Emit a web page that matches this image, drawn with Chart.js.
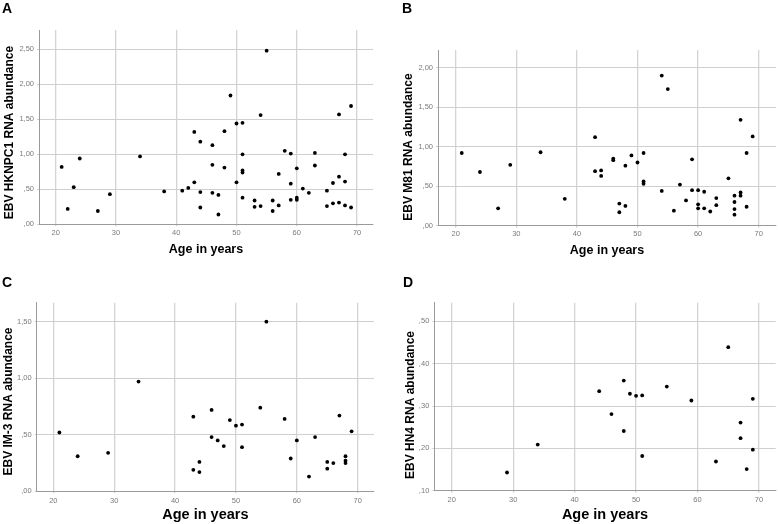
<!DOCTYPE html>
<html>
<head>
<meta charset="utf-8">
<script src="https://cdn.jsdelivr.net/npm/chart.js@4.4.1/dist/chart.umd.min.js"></script>
<style>
  html, body { margin: 0; padding: 0; background: #fff; }
  #wrap { position: relative; width: 778px; height: 524px; overflow: hidden; background: #fff; }
  canvas { position: absolute; }
  .lbl { position: absolute; font: bold 14px "Liberation Sans", Arial, sans-serif; color: #000; }
</style>
</head>
<body>
<div id="wrap">
  <canvas id="cA" width="389" height="262" style="left:0px;top:0px;width:389px;height:262px"></canvas>
  <canvas id="cB" width="389" height="262" style="left:389px;top:0px;width:389px;height:262px"></canvas>
  <canvas id="cC" width="389" height="262" style="left:0px;top:262px;width:389px;height:262px"></canvas>
  <canvas id="cD" width="389" height="262" style="left:389px;top:262px;width:389px;height:262px"></canvas>
  <div class="lbl" style="left:2px;top:0px">A</div>
  <div class="lbl" style="left:402px;top:0px">B</div>
  <div class="lbl" style="left:2px;top:274px">C</div>
  <div class="lbl" style="left:403px;top:274px">D</div>
</div>
<script>
// ---------- data ----------
const xTicks = [20, 30, 40, 50, 60, 70];
const xTitle = "Age in years";

const agesA = [21,22,23,24,27,29,34,38,41,42,43,43,44,44,44,46,46,46,47,47,48,48,49,50,50,51,51,51,51,51,53,53,54,54,55,56,56,57,57,58,59,59,59,60,60,60,61,62,63,63,65,65,66,66,67,67,67,68,68,68,69,69];
const valsA = [0.82,0.22,0.53,0.94,0.19,0.43,0.97,0.47,0.48,0.52,1.32,0.60,1.18,0.46,0.24,1.13,0.85,0.45,0.42,0.14,1.33,0.81,1.84,1.44,0.60,1.45,1.00,0.77,0.74,0.38,0.34,0.25,0.26,1.56,2.48,0.34,0.19,0.72,0.27,1.05,1.01,0.58,0.35,0.80,0.38,0.35,0.51,0.45,1.02,0.84,0.48,0.26,0.59,0.30,1.57,0.68,0.31,1.00,0.61,0.27,1.69,0.24];
const yTicksA = [0, 0.5, 1.0, 1.5, 2.0, 2.5];
const yLabelsA = [",00", ",50", "1,00", "1,50", "2,00", "2,50"];
const titleA = "EBV HKNPC1 RNA abundance";

const agesB = [21,24,27,29,34,38,43,43,44,44,46,46,47,47,48,48,49,50,51,51,51,54,54,55,56,57,58,59,59,60,60,60,61,61,62,63,63,65,66,66,66,66,67,67,67,68,68,69];
const valsB = [0.92,0.68,0.22,0.77,0.93,0.34,1.12,0.69,0.70,0.63,0.85,0.83,0.28,0.17,0.76,0.25,0.89,0.80,0.92,0.56,0.53,1.90,0.44,1.73,0.19,0.52,0.32,0.84,0.45,0.45,0.27,0.22,0.43,0.22,0.18,0.35,0.26,0.60,0.38,0.30,0.21,0.14,1.34,0.42,0.38,0.92,0.24,1.13];
const yTicksB = [0, 0.5, 1.0, 1.5, 2.0];
const yLabelsB = [",00", ",50", "1,00", "1,50", "2,00"];
const titleB = "EBV M81 RNA abundance";

const agesC = [21,24,29,34,43,43,44,44,46,46,47,48,49,50,51,51,54,55,58,59,60,62,63,65,65,66,67,68,68,68,69];
const valsC = [0.52,0.31,0.34,0.97,0.66,0.19,0.26,0.17,0.72,0.48,0.45,0.40,0.63,0.58,0.59,0.39,0.74,1.50,0.64,0.29,0.45,0.13,0.48,0.26,0.20,0.25,0.67,0.31,0.27,0.25,0.53];
const yTicksC = [0, 0.5, 1.0, 1.5];
const yLabelsC = [",00", ",50", "1,00", "1,50"];
const titleC = "EBV IM-3 RNA abundance";

const agesD = [29,34,44,46,48,48,49,50,51,51,55,59,63,65,67,67,68,69,69];
const valsD = [0.143,0.209,0.335,0.281,0.360,0.241,0.329,0.324,0.325,0.182,0.346,0.313,0.169,0.439,0.261,0.224,0.151,0.317,0.197];
const yTicksD = [0.1, 0.2, 0.3, 0.4, 0.5];
const yLabelsD = [",10", ",20", ",30", ",40", ",50"];
const titleD = "EBV HN4 RNA abundance";

// ---------- rendering ----------
const FONT = '"Liberation Sans", Arial, sans-serif';

const yTitlePlugin = {
  id: 'yTitle',
  afterDraw(chart, args, opts) {
    const ctx = chart.ctx;
    ctx.save();
    ctx.translate(opts.x, opts.y);
    ctx.rotate(-Math.PI / 2);
    ctx.font = 'bold ' + opts.size + 'px ' + FONT;
    ctx.fillStyle = '#000';
    ctx.textAlign = 'center';
    ctx.textBaseline = 'middle';
    ctx.fillText(opts.text, 0, 0);
    ctx.restore();
  }
};

function makeChart(id, ages, vals, yTicks, yLabels, yTitle, g) {
  const W = 389, H = 262;
  const pts = ages.map((a, i) => ({ x: a, y: vals[i] }));
  return new Chart(document.getElementById(id), {
    type: 'scatter',
    data: { datasets: [{ data: pts, backgroundColor: '#000', borderColor: '#000', pointRadius: 1.9, pointBorderWidth: 0, pointHoverRadius: 1.9 }] },
    plugins: [yTitlePlugin],
    options: {
      responsive: false,
      animation: false,
      events: [],
      layout: { padding: { left: 0, top: g.top, right: W - g.right, bottom: 0 } },
      plugins: {
        legend: { display: false },
        tooltip: { enabled: false },
        yTitle: { text: yTitle, x: g.ytx, y: g.yty, size: 12 }
      },
      scales: {
        x: {
          type: 'linear',
          min: g.xmin, max: g.xmax,
          afterBuildTicks: s => { s.ticks = xTicks.map(v => ({ value: v })); },
          afterFit: s => { s.height = H - g.bottom; },
          grid: { color: '#d4d4d4', lineWidth: 1.3, drawTicks: true, tickLength: 2 },
          border: { display: true, color: '#9a9a9a', width: 1 },
          ticks: { font: { family: FONT, size: 7.5 }, color: '#7a7a7a', padding: g.xtp, maxRotation: 0, callback: v => String(v) },
          title: { display: true, text: xTitle, color: '#000', font: { family: FONT, size: g.xts, weight: 'bold' }, padding: { top: 0, bottom: g.xtpb } }
        },
        y: {
          type: 'linear',
          min: g.ymin, max: g.ymax,
          afterBuildTicks: s => { s.ticks = yTicks.map(v => ({ value: v })); },
          afterFit: s => { s.width = g.left; },
          grid: { color: '#cfcfcf', lineWidth: 1, drawTicks: true, tickLength: 2 },
          border: { display: true, color: '#9a9a9a', width: 1 },
          ticks: { font: { family: FONT, size: 7.5 }, color: '#7a7a7a', padding: 3, callback: (v, i) => yLabels[i] }
        }
      }
    }
  });
}

makeChart('cA', agesA, valsA, yTicksA, yLabelsA, titleA,
  { left: 39, right: 373, top: 30, bottom: 224.3, xmin: 17.24, xmax: 72.64, ymin: 0, ymax: 2.776, ytx: 10, yty: 132.5, xts: 12.5, xtpb: 4.5, xtp: 2 });
makeChart('cB', agesB, valsB, yTicksB, yLabelsB, titleB,
  { left: 49, right: 387, top: 50, bottom: 225.7, xmin: 17.08, xmax: 72.85, ymin: 0, ymax: 2.224, ytx: 20, yty: 147, xts: 12.5, xtpb: 3.8, xtp: 2 });
makeChart('cC', agesC, valsC, yTicksC, yLabelsC, titleC,
  { left: 36.7, right: 374, top: 40.7, bottom: 229.3, xmin: 17.27, xmax: 72.68, ymin: 0, ymax: 1.668, ytx: 8.5, yty: 139.5, xts: 14.5, xtpb: 0.5, xtp: 3 });
makeChart('cD', agesD, valsD, yTicksD, yLabelsD, titleD,
  { left: 45.3, right: 386.7, top: 40.7, bottom: 228.7, xmin: 17.17, xmax: 72.72, ymin: 0.1, ymax: 0.544, ytx: 21.7, yty: 143, xts: 14.5, xtpb: 0, xtp: 2.5 });
</script>
</body>
</html>
